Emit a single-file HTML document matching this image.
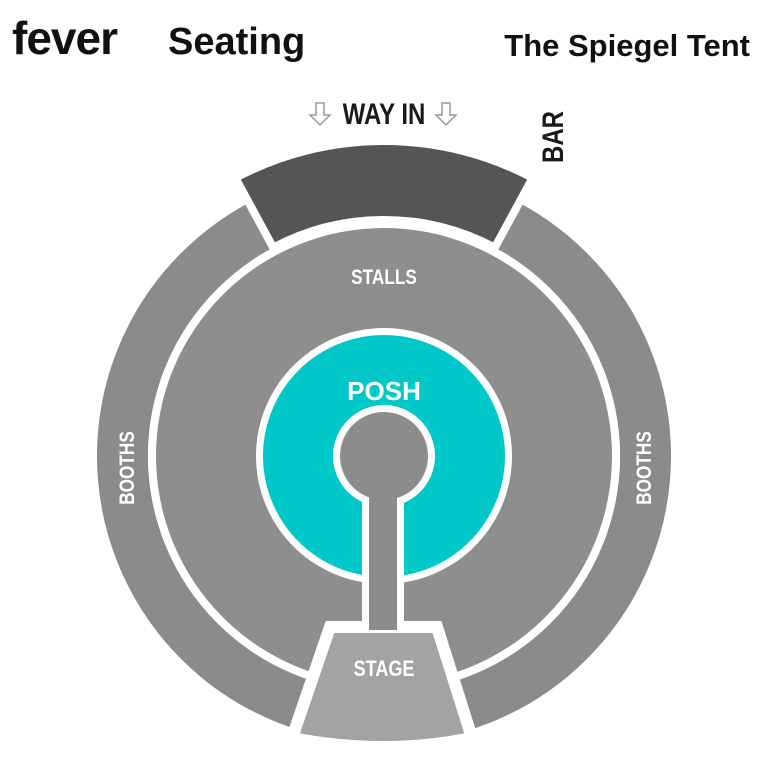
<!DOCTYPE html>
<html><head><meta charset="utf-8"><style>
html,body{margin:0;padding:0;background:#fff;}
svg{display:block;}
</style></head><body>
<svg width="768" height="768" viewBox="0 0 768 768" xmlns="http://www.w3.org/2000/svg" font-family="Liberation Sans, sans-serif">
<rect width="768" height="768" fill="#fff"/>
<text x="12" y="54" font-size="46" font-weight="bold" fill="#111" letter-spacing="-1">fever</text>
<text x="168" y="54" font-size="38" font-weight="bold" fill="#111">Seating</text>
<text x="750" y="56" font-size="31" font-weight="bold" fill="#111" text-anchor="end">The Spiegel Tent</text>

<circle cx="384" cy="456" r="261.5" fill="none" stroke="#8b8b8b" stroke-width="51"/>
<path d="M 235.4 177.9 A 318 318 0 0 1 532.6 177.9 L 494.8 247.6 A 236 236 0 0 0 273.2 247.6 Z" fill="#555" stroke="#fff" stroke-width="8" stroke-linejoin="miter"/>
<circle cx="384" cy="456" r="236" fill="#fff"/>
<circle cx="384" cy="456" r="228" fill="#8e8e8e"/>
<circle cx="384" cy="456" r="128" fill="#fff"/>
<circle cx="384" cy="456" r="121" fill="#00c8c8"/>
<circle cx="384" cy="456" r="51" fill="#fff"/>
<rect x="362" y="500" width="42" height="130" fill="#fff"/>
<circle cx="384" cy="456" r="44" fill="#8c8c8c"/>
<rect x="369" y="470" width="28" height="160" fill="#8c8c8c"/>
<path d="M 330 627 L 437 627 L 472 738 Q 384 756 292 738 Z" fill="#a3a3a3" stroke="#fff" stroke-width="12" stroke-linejoin="miter"/>
<rect x="369" y="600" width="28" height="30" fill="#8c8c8c"/>
<path d="M 330 627 L 369 627 M 397 627 L 437 627" stroke="#fff" stroke-width="6"/>

<g transform="translate(384,124) scale(0.8,1)"><text x="0" y="0" font-size="30" font-weight="bold" fill="#1a1a1a" text-anchor="middle">WAY IN</text></g>
<path d="M 316 103 h8 v12 h6 l-10 10 l-10 -10 h6 z" fill="#fff" stroke="#999" stroke-width="1.5"/>
<path d="M 442 103 h8 v12 h6 l-10 10 l-10 -10 h6 z" fill="#fff" stroke="#999" stroke-width="1.5"/>
<g transform="translate(563,137) rotate(-90) scale(0.8,1)"><text x="0" y="0" font-size="30" font-weight="bold" fill="#1a1a1a" text-anchor="middle">BAR</text></g>
<g transform="translate(384,284) scale(0.82,1)"><text x="0" y="0" font-size="21" font-weight="bold" fill="#fff" text-anchor="middle">STALLS</text></g>
<text x="384" y="400" font-size="26" font-weight="bold" fill="#fff" text-anchor="middle">POSH</text>
<g transform="translate(134,468) rotate(-90) scale(0.82,1)"><text x="0" y="0" font-size="21" font-weight="bold" fill="#fff" text-anchor="middle">BOOTHS</text></g>
<g transform="translate(651,468) rotate(-90) scale(0.82,1)"><text x="0" y="0" font-size="21" font-weight="bold" fill="#fff" text-anchor="middle">BOOTHS</text></g>
<g transform="translate(384,676) scale(0.82,1)"><text x="0" y="0" font-size="22" font-weight="bold" fill="#fff" text-anchor="middle">STAGE</text></g>
</svg>
</body></html>
